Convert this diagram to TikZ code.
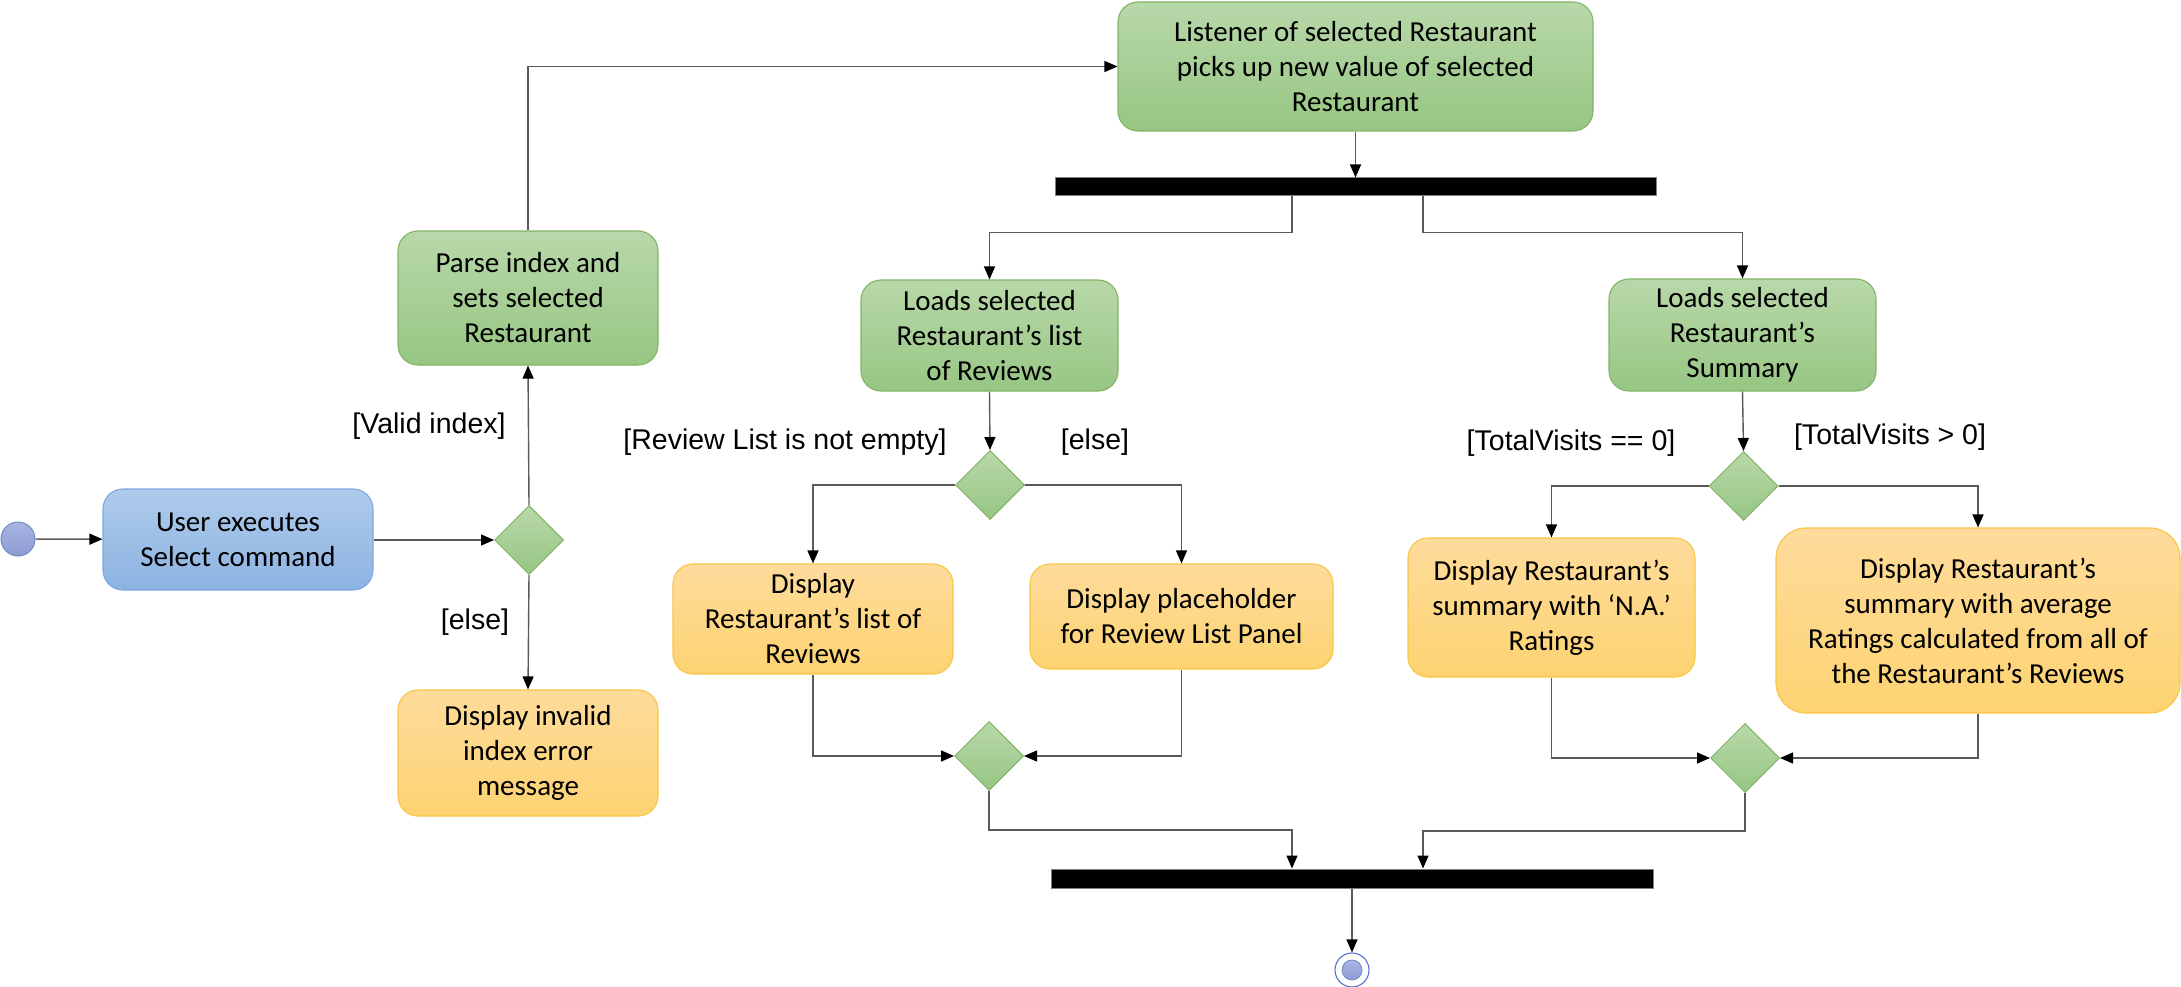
\documentclass[tikz,border=0pt]{standalone}
\usepackage{fontspec}
\setmainfont{Carlito}
\newfontfamily\lblfont{Liberation Sans}
\usetikzlibrary{shapes.geometric,arrows.meta,calc}
\definecolor{gtop}{HTML}{B8D8A9}
\definecolor{gbot}{HTML}{97C683}
\definecolor{gstroke}{HTML}{82B366}
\definecolor{otop}{HTML}{FEDB9C}
\definecolor{obot}{HTML}{FDD371}
\definecolor{ostroke}{HTML}{F8C644}
\definecolor{btop}{HTML}{AECBEB}
\definecolor{bbot}{HTML}{8DB3E2}
\definecolor{bstroke}{HTML}{7EA6E0}
\definecolor{ctop}{HTML}{A9B4E2}
\definecolor{cbot}{HTML}{8E9BD4}
\definecolor{cstroke}{HTML}{6C8EBF}
\definecolor{linegray}{HTML}{5A5A5A}
\begin{document}
\begin{tikzpicture}[x=1pt,y=-1pt,
  box/.style={rectangle, rounded corners=20pt, align=center, inner sep=0pt,
    font=\fontsize{29}{35}\selectfont, line width=1.1pt},
  gbox/.style={box, draw=gstroke, top color=gtop, bottom color=gbot},
  obox/.style={box, draw=ostroke, top color=otop, bottom color=obot},
  bbox/.style={box, draw=bstroke, top color=btop, bottom color=bbot},
  dia/.style={diamond, minimum width=69pt, minimum height=69pt, inner sep=0pt,
    draw=gstroke, top color=gtop, bottom color=gbot, line width=1pt},
  bar/.style={rectangle, draw=gray, fill=black, inner sep=0pt, line width=1pt},
  lbl/.style={font=\lblfont\fontsize{28.5}{34}\selectfont, inner sep=0pt},
  arr/.style={draw=linegray, line width=1.4pt, -{Triangle[length=13pt,width=11pt,color=black]}}
]
\useasboundingbox (0,0) rectangle (2181,987);

% nodes
\node[circle, minimum size=34pt, inner sep=0pt, draw=cstroke, line width=1pt,
  top color=ctop, bottom color=cbot] (start) at (18,539) {};
\node[bbox, minimum width=270pt, minimum height=101pt] (user) at (238,539.5)
  {User executes\\Select command};
\node[dia] (d1) at (529,540) {};
\node[gbox, minimum width=260pt, minimum height=134pt] (parse) at (528,298)
  {Parse index and\\sets selected\\Restaurant};
\node[obox, minimum width=260pt, minimum height=126pt] (invalid) at (528,753)
  {Display invalid\\index error\\message};
\node[gbox, minimum width=475pt, minimum height=129pt] (listener) at (1355.5,66.5)
  {Listener of selected Restaurant\\picks up new value of selected\\Restaurant};
\node[bar, minimum width=601pt, minimum height=18pt] (fork) at (1355.5,187) {};
\node[gbox, minimum width=257pt, minimum height=111pt] (loadsR) at (989.5,335.5)
  {Loads selected\\Restaurant’s list\\of Reviews};
\node[gbox, minimum width=267pt, minimum height=112pt] (loadsS) at (1742.5,335)
  {Loads selected\\Restaurant’s\\Summary};
\node[dia] (d2) at (990,485) {};
\node[obox, minimum width=280pt, minimum height=110pt] (listR) at (813,619)
  {Display\\Restaurant’s list of\\Reviews};
\node[obox, minimum width=303pt, minimum height=105pt] (place) at (1181.5,616.5)
  {Display placeholder\\for Review List Panel};
\node[dia] (m2) at (989,756) {};
\node[dia] (d3) at (1743.5,486) {};
\node[obox, minimum width=287pt, minimum height=139pt] (na) at (1551.5,607.5)
  {Display Restaurant’s\\summary with ‘N.A.’\\Ratings};
\node[obox, rounded corners=30pt, minimum width=404pt, minimum height=185pt] (avg) at (1978,620.5)
  {Display Restaurant’s\\summary with average\\Ratings calculated from all of\\the Restaurant’s Reviews};
\node[dia] (m3) at (1745,758) {};
\node[bar, minimum width=602pt, minimum height=19pt] (join) at (1352,878.5) {};
\node[circle, minimum size=34pt, inner sep=0pt, draw=cstroke!80!blue, line width=1.1pt, fill=white] (end) at (1352,970) {};
\node[circle, minimum size=20pt, inner sep=0pt, draw=cstroke, line width=0.8pt,
  top color=ctop, bottom color=cbot] (endin) at (end.center) {};

% labels
\node[lbl] (lvalid) at (429,426) {[Valid index]};
\node[lbl] (lelse1) at (475,622) {[else]};
\node[lbl] (lnotempty) at (785,442) {[Review List is not empty]};
\node[lbl] (lelse2) at (1095,442) {[else]};
\node[lbl] (lzero) at (1571,443) {[TotalVisits == 0]};
\node[lbl] (lpos) at (1890,437) {[TotalVisits > 0]};

% connectors
\draw[arr] (start) -- (user);
\draw[arr] (user.east |- d1.west) -- (d1.west);
\draw[arr] (d1.north) -- (parse.south);
\draw[arr] (d1.south) -- (invalid.north);
\draw[arr] (parse.north) |- (listener.west);
\draw[arr] (listener.south) -- (fork.north);
\draw[arr] ([xshift=-63.5pt]fork.south) -- ++(0,36) -| (loadsR.north);
\draw[arr] ([xshift=67.5pt]fork.south) -- ++(0,36) -| (loadsS.north);
\draw[arr] (loadsR.south) -- (d2.north);
\draw[arr] (d2.west) -| (listR.north);
\draw[arr] (d2.east) -| (place.north);
\draw[arr] (listR.south) |- (m2.west);
\draw[arr] (place.south) |- (m2.east);
\draw[arr] (m2.south) -- ++(0,39) -| ([xshift=-60pt]join.north);
\draw[arr] (loadsS.south) -- (d3.north);
\draw[arr] (d3.west) -| (na.north);
\draw[arr] (d3.east) -| (avg.north);
\draw[arr] (na.south) |- (m3.west);
\draw[arr] (avg.south) |- (m3.east);
\draw[arr] (m3.south) -- ++(0,38) -| ([xshift=71pt]join.north);
\draw[arr] (join.south) -- (end.north);
\end{tikzpicture}
\end{document}
